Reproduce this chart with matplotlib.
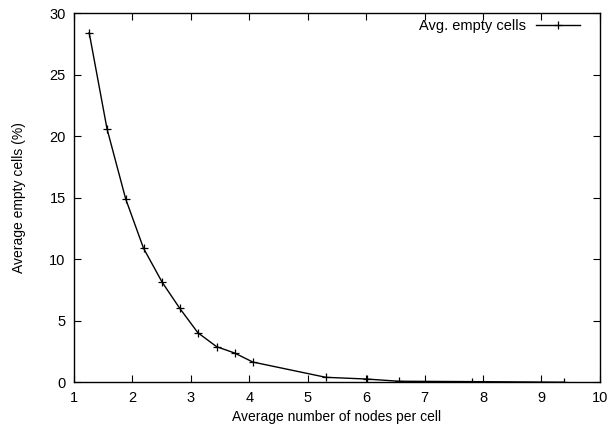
import numpy as np
import matplotlib.pyplot as plt

plt.rcParams['font.family'] = ['Liberation Sans', 'DejaVu Sans']

# nodes per cell vs empty cells (%)
nodes_per_cell = [1.26, 1.565, 1.885, 2.19, 2.51, 2.81, 3.12, 3.44, 3.75, 4.06,
                  5.31, 6.01, 6.56, 7.81, 9.38]
empty_cells = [28.4, 20.6, 14.9, 10.9, 8.13, 6.02, 4.04, 2.91, 2.39, 1.66,
               0.42, 0.28, 0.1, 0.07, 0.02]

fig = plt.figure(figsize=(6.09, 4.34), dpi=100)
ax = fig.add_axes([0.1215, 0.1187, 0.8635, 0.8513])

ax.plot(nodes_per_cell, empty_cells, color='black', lw=1.0, marker='+',
        markersize=6, markeredgewidth=0.9, label='Avg. empty cells')

ax.set_xlim(1, 10)
ax.set_ylim(0, 30)
ax.set_xticks(range(1, 11))
ax.set_yticks(range(0, 31, 5))
ax.tick_params(direction='in', top=True, right=True, length=5, width=0.8,
               labelsize=10.5, pad=6)
for s in ax.spines.values():
    s.set_linewidth(1.0)

ax.set_xlabel('Average number of nodes per cell', fontsize=10, labelpad=4)
ax.set_ylabel('Average empty cells (%)', fontsize=10, labelpad=17)

ax.legend(loc='upper right', bbox_to_anchor=(0.982, 1.012), frameon=False,
          markerfirst=False, fontsize=10.5, handlelength=3.0,
          borderaxespad=0.3, handletextpad=0.7)

fig.savefig('out.png', dpi=100)
